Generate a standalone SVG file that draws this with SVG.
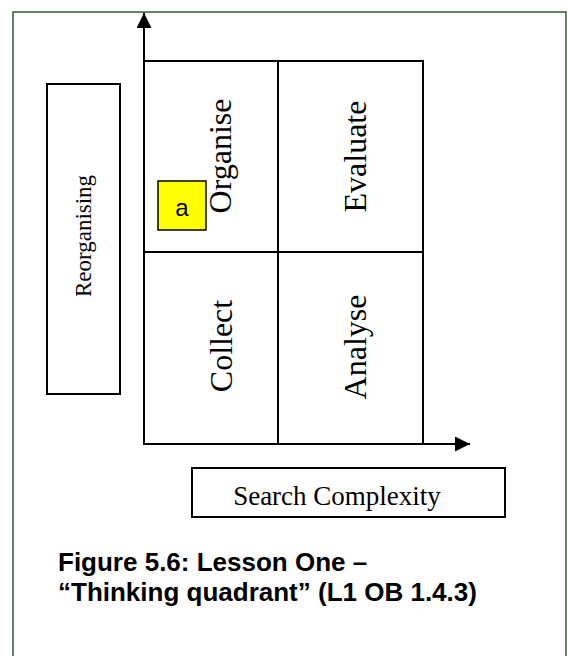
<svg xmlns="http://www.w3.org/2000/svg" width="567" height="656" viewBox="0 0 567 656">
<defs>
<style>
.frame{fill:none;stroke:#2e5e2e;stroke-width:1.5}
.box{fill:#fff;stroke:#000;stroke-width:2}
.cell{fill:none;stroke:#000;stroke-width:2}
.note{fill:#ffff00;stroke:#000;stroke-width:1.5}
.axis{fill:none;stroke:#000;stroke-width:2}
.serif{font-family:"Liberation Serif","Times New Roman",serif;fill:#000}
.q{font-size:32px;text-anchor:middle}
.sans{font-family:"Liberation Sans",Arial,sans-serif;fill:#000}
.cap{font-size:26px;font-weight:bold}
</style>
<marker id="arrow" markerUnits="userSpaceOnUse" markerWidth="15" markerHeight="15" refX="15" refY="7.5" orient="auto">
<path d="M0,0 L15,7.5 L0,15 Z" fill="#000"/>
</marker>
</defs>
<rect width="567" height="656" fill="#fff"/>
<rect class="frame" x="13" y="12" width="553" height="660"/>
<g id="reorganising">
<rect class="box" x="47" y="84" width="73" height="310"/>
<text class="serif" font-size="23" text-anchor="middle" transform="translate(91,236) rotate(-90)">Reorganising</text>
</g>
<g id="organise">
<rect class="cell" x="144" y="61" width="134" height="191"/>
<text class="serif q" transform="translate(231,156) rotate(-90)">Organise</text>
</g>
<g id="evaluate">
<rect class="cell" x="278" y="61" width="145" height="191"/>
<text class="serif q" transform="translate(366,156.5) rotate(-90)">Evaluate</text>
</g>
<g id="collect">
<rect class="cell" x="144" y="252" width="134" height="192"/>
<text class="serif q" transform="translate(232,346) rotate(-90)">Collect</text>
</g>
<g id="analyse">
<rect class="cell" x="278" y="252" width="145" height="192"/>
<text class="serif q" transform="translate(366,347) rotate(-90)">Analyse</text>
</g>
<g id="note-a">
<rect class="note" x="158" y="181" width="48" height="49"/>
<text class="sans" font-size="24" x="182" y="216" text-anchor="middle">a</text>
</g>
<g id="search-complexity">
<rect class="box" x="192" y="468" width="313" height="49"/>
<text class="serif" font-size="27" x="337" y="505" text-anchor="middle">Search Complexity</text>
</g>
<g id="connectors">
<line class="axis" x1="144" y1="444" x2="144" y2="13" marker-end="url(#arrow)"/>
<line class="axis" x1="144" y1="444" x2="470" y2="444" marker-end="url(#arrow)"/>
</g>
<g id="caption">
<text class="sans cap" x="58" y="571">Figure 5.6: Lesson One –</text>
<text class="sans cap" x="58" y="601">“Thinking quadrant” (L1 OB 1.4.3)</text>
</g>
</svg>
